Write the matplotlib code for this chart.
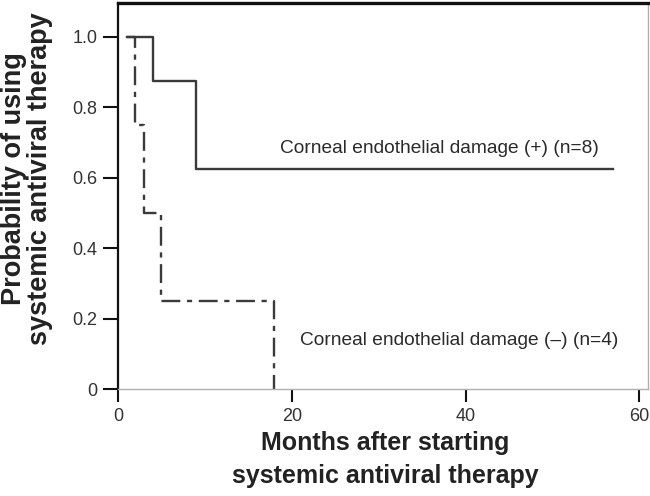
import matplotlib
matplotlib.use("Agg")
import matplotlib.pyplot as plt

plt.rcParams['font.family'] = ['Liberation Sans', 'DejaVu Sans']

# Kaplan-Meier step data
pos_months = [1, 4, 9, 57]
pos_prob = [1.0, 0.875, 0.625, 0.625]
neg_months = [1, 2, 3, 5, 18]
neg_prob = [1.0, 0.75, 0.5, 0.25, 0.0]

pos_label = "Corneal endothelial damage (+) (n=8)"
neg_label = "Corneal endothelial damage (\u2013) (n=4)"
xticks = [0, 20, 40, 60]
yticks = [0, 0.2, 0.4, 0.6, 0.8, 1.0]
ytick_labels = ["0", "0.2", "0.4", "0.6", "0.8", "1.0"]

fig = plt.figure(figsize=(6.5, 4.96), dpi=100)
ax = fig.add_axes([118/650, 1 - 389/496, (648-118)/650, (389-3)/496])

line_col = '#3a3a3a'
ax.plot(pos_months, pos_prob, drawstyle='steps-post', color=line_col, lw=1.7)
ax.plot(neg_months, neg_prob, drawstyle='steps-post', color=line_col, lw=1.7,
        linestyle=(0, (8.0, 2.8, 2.2, 2.8)))

ax.set_xlim(0, 61)
ax.set_ylim(0, 1.096)
ax.set_xticks(xticks)
ax.set_yticks(yticks)
ax.set_yticklabels(ytick_labels)

ax.spines['top'].set_linewidth(2.4)
ax.spines['top'].set_color('#111111')
ax.spines['left'].set_linewidth(1.6)
ax.spines['left'].set_color('#111111')
ax.spines['bottom'].set_linewidth(1.0)
ax.spines['bottom'].set_color('#b0b0b0')
ax.spines['right'].set_linewidth(1.0)
ax.spines['right'].set_color('#b0b0b0')

ax.tick_params(axis='both', which='major', direction='out', color='#111111',
               width=1.5, labelsize=13, labelcolor='#333333')
ax.tick_params(axis='y', length=11, pad=4)
ax.tick_params(axis='x', length=9, pad=5)

ax.text(18.6, 0.67, pos_label, fontsize=13.8, color='#2a2a2a', ha='left', va='baseline')
ax.text(20.9, 0.125, neg_label, fontsize=13.8, color='#2a2a2a', ha='left', va='baseline')

ax.set_xlabel("Months after starting\nsystemic antiviral therapy", fontsize=18,
              fontweight='bold', color='#222222', linespacing=1.5)
ax.set_ylabel("Probability of using\nsystemic antiviral therapy", fontsize=19.5,
              fontweight='bold', color='#222222', linespacing=1.0)
ax.xaxis.set_label_coords(0.505, -0.108, transform=ax.transAxes)
ax.xaxis.label.set_va('top')
ax.yaxis.set_label_coords(-0.122, 0.545, transform=ax.transAxes)

fig.savefig("out.png", dpi=100)
